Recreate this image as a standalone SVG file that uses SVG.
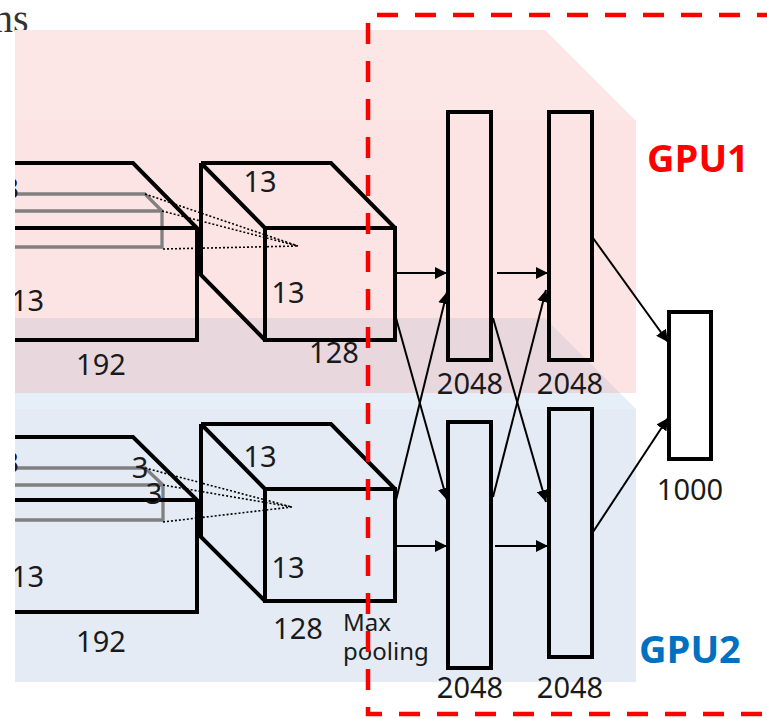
<svg xmlns="http://www.w3.org/2000/svg" width="767" height="719" viewBox="0 0 767 719">
<defs>
<style>
.t{font-family:"Noto Sans","Open Sans","Liberation Sans",sans-serif;font-size:29px;fill:#1a1a1a}
.s{font-size:24px}
.m{text-anchor:middle}
.g{font-family:"Open Sans","Noto Sans","Liberation Sans",sans-serif;font-size:38px;font-weight:bold}
.k{fill:none;stroke:#000;stroke-width:4;stroke-linejoin:miter}
.gr{fill:none;stroke:#808080;stroke-width:3.3}
.dot{fill:none;stroke:#000;stroke-width:1.6;stroke-dasharray:2 2}
.fc{fill:none;stroke:#000;stroke-width:4}
.ar{fill:none;stroke:#000;stroke-width:2;marker-end:url(#ah)}
.red{fill:none;stroke:#ff0000;stroke-width:4.5;stroke-dasharray:21 17}
</style>
<marker id="ah" markerUnits="userSpaceOnUse" markerWidth="13" markerHeight="12" refX="12" refY="6" orient="auto">
<path d="M0,0 L12,6 L0,12 z" fill="#000"/>
</marker>
<clipPath id="clipL"><rect x="15" y="0" width="752" height="719"/></clipPath>
</defs>
<rect width="767" height="719" fill="#fff"/>
<text x="-7" y="32" font-family="'Liberation Serif',serif" font-size="40" fill="#333">ns</text>
<g id="bg">
<polygon points="15,30 545,30 635,120 15,120" fill="#fde6e6"/>
<rect x="15" y="120" width="621" height="273" fill="#fce4e4"/>
<polygon points="15,393 620,393 636,409 15,409" fill="#e6eef8"/>
<rect x="15" y="409" width="621" height="273" fill="#e4ebf5"/>
<polygon points="15,318 545,318 620,393 15,393" fill="#e8d8de"/>
</g>
<g id="gpu1-conv4" clip-path="url(#clipL)">
<path class="gr" d="M0,194 H145 L162,211 V247 H0 M0,211 H162"/>
<path class="k" d="M0,163 H133 L197,228 V340 H0 M0,228 H197"/>
<text class="t" x="19" y="199" text-anchor="end">3</text>
<text class="t" x="11" y="311">13</text>
<text class="t m" x="101" y="375">192</text>
</g>
<g id="gpu1-conv5">
<path class="k" d="M201,163 V275 L265,340 M201,163 H331 L395,228 M201,163 L265,228"/>
<rect class="k" x="265" y="228" width="130" height="112"/>
<text class="t m" x="260" y="192">13</text>
<text class="t m" x="288" y="303">13</text>
<text class="t m" x="334" y="363">128</text>
</g>
<g id="gpu2-conv4" clip-path="url(#clipL)">
<path class="gr" d="M0,468 H145 L163,485 V520 H0 M0,485 H163"/>
<path class="k" d="M0,437 H133 L197,500 V612 H0 M0,500 H197"/>
<text class="t" x="19" y="473" text-anchor="end">3</text>
<text class="t m" x="140" y="478">3</text>
<text class="t m" x="154" y="504">3</text>
<text class="t" x="11" y="587">13</text>
<text class="t m" x="101" y="652">192</text>
</g>
<g id="gpu2-conv5">
<path class="k" d="M201,424 V537 L265,601 M201,424 H331 L395,489 M201,424 L265,489"/>
<rect class="k" x="265" y="489" width="130" height="112"/>
<text class="t m" x="260" y="467">13</text>
<text class="t m" x="288" y="578">13</text>
<text class="t m" x="298" y="639">128</text>
<text class="t s" x="343" y="631">Max</text>
<text class="t s" x="343" y="660">pooling</text>
</g>
<g id="kernels">
<path class="dot" d="M145,194 L298,246 M162,211 L298,246 M163,249 L298,246"/>
<path class="dot" d="M145,468 L292,507 M163,485 L292,507 M163,522 L292,507"/>
</g>
<g id="gpu1-fc6"><rect class="fc" x="448" y="112" width="43" height="248"/><text class="t m" x="470" y="394">2048</text></g>
<g id="gpu1-fc7"><rect class="fc" x="549" y="112" width="43" height="248"/><text class="t m" x="570" y="394">2048</text></g>
<g id="gpu2-fc6"><rect class="fc" x="448" y="422" width="43" height="246"/><text class="t m" x="470" y="698">2048</text></g>
<g id="gpu2-fc7"><rect class="fc" x="549" y="409" width="43" height="248"/><text class="t m" x="570" y="698">2048</text></g>
<g id="output"><rect class="fc" x="669" y="312" width="42" height="147" style="fill:#fff"/><text class="t m" x="690" y="500">1000</text></g>
<g id="connectors">
<line class="ar" x1="397" y1="273" x2="447" y2="273"/>
<line class="ar" x1="497" y1="273" x2="548" y2="273"/>
<line class="ar" x1="396" y1="546" x2="447" y2="546"/>
<line class="ar" x1="495" y1="546" x2="548" y2="546"/>
<line class="ar" x1="396" y1="318" x2="447" y2="500"/>
<line class="ar" x1="396" y1="500" x2="447" y2="292"/>
<line class="ar" x1="493" y1="318" x2="546" y2="502"/>
<line class="ar" x1="493" y1="497" x2="546" y2="290"/>
<line class="ar" x1="593" y1="238" x2="668" y2="342"/>
<line class="ar" x1="593" y1="532" x2="668" y2="418"/>
</g>
<g id="labels">
<text class="g" x="647" y="172" fill="#ff0000">GPU1</text>
<text class="g" x="639" y="663" fill="#0070c0">GPU2</text>
</g>
<g id="boundary">
<path class="red" d="M377,15 H800"/>
<path class="red" d="M368,23 V714 H800"/>
</g>
</svg>
